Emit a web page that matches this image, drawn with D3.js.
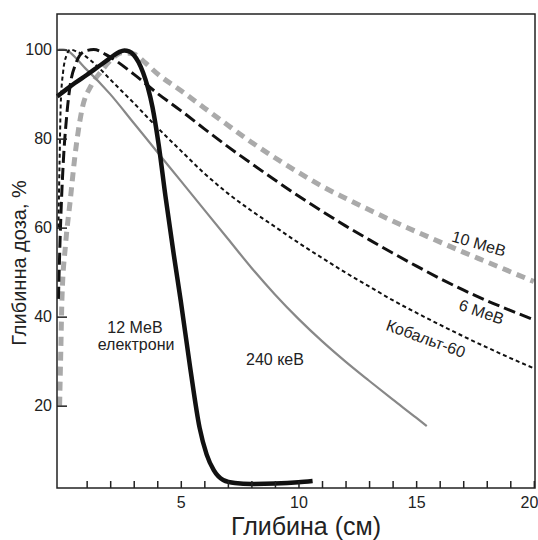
<!DOCTYPE html>
<html>
<head>
<meta charset="utf-8">
<script src="https://cdn.jsdelivr.net/npm/d3@7"></script>
<style>
  body { margin: 0; background: #fff; }
  text { font-family: "Liberation Sans", Arial, sans-serif; fill: #222; }
</style>
</head>
<body>
<svg id="chart"></svg>
<script>
// depth (cm), dose (%)
const mev10 = [[-0.15,20],[-0.1,32],[-0.05,44],[0.1,56],[0.3,66],[0.5,76],[0.8,86.5],[1.2,92],[1.6,95],[2,97.5],[2.5,99.3],[3,99],[3.5,97],[4,94.6],[5,90.8],[6,86.9],[7,83],[8,79.2],[9,75.7],[10,72.4],[11,69.3],[12,66.6],[13,64],[14,61.5],[15,59.1],[16,56.8],[17,54.5],[18,52.3],[19,50.1],[20,47.9]];
const mev6 = [[-0.2,44],[-0.1,62],[0,74],[0.15,85],[0.3,92],[0.55,97],[0.9,99.6],[1.3,100],[2,98.3],[3,94.5],[4,90.2],[5,86.3],[6,82.2],[7,78.2],[8,74.4],[9,70.7],[10,67.1],[11,63.7],[12,60.4],[13,57.3],[14,54.3],[15,51.4],[16,48.6],[17,46],[18,43.6],[19,41.4],[20,39.3]];
const cobalt60 = [[-0.2,60],[-0.15,75],[-0.1,88],[0,95],[0.15,98.8],[0.3,100],[0.6,99.5],[1,98.3],[1.5,96],[2,93.3],[3,88],[4,82.5],[5,77.3],[6,72.2],[7,67.7],[8,63.8],[9,60.2],[10,56.6],[11,53.2],[12,49.9],[13,46.8],[14,43.7],[15,40.9],[16,38.2],[17,35.6],[18,33.1],[19,30.7],[20,28.4]];
const kev240 = [[-0.2,100],[0,100],[1,95.5],[2,90],[3,83.5],[4,77],[5,70.5],[6,64],[7,57.5],[8,51],[9,45],[10,39.5],[11,34.5],[12,29.9],[13,25.6],[14,21.4],[15,17.3],[15.45,15.4]];
const electrons12 = [[-0.25,89.5],[0,90.5],[0.5,92.5],[1,94.3],[1.5,96.2],[2,98.1],[2.2,98.9],[2.4,99.5],[2.6,99.8],[2.8,99.6],[3,98.8],[3.2,97.2],[3.4,94.8],[3.6,91.5],[3.8,87],[4.05,79],[4.35,67],[4.7,54],[5,43.5],[5.4,28.5],[5.8,15],[6.1,9],[6.4,5.5],[6.8,3.3],[7.3,2.6],[8,2.4],[9,2.5],[10,2.8],[10.6,3.1]];

const xTicks = d3.range(1, 21);
const xTickLabels = [5, 10, 15, 20];
const yTicks = [20, 40, 60, 80, 100];

// label text, depth, dose, angle
const labels = [
  ["12 МеВ", 3.05, 36.3, 0],
  ["електрони", 3.1, 32.5, 0],
  ["240 кеВ", 9.0, 29.1, 0],
  ["10 МеВ", 17.6, 55.2, 16],
  ["6 МеВ", 17.7, 39.9, 19],
  ["Кобальт-60", 15.33, 33.9, 20]
];

const svg = d3.select("#chart")
  .attr("width", 538)
  .attr("height", 540);

const mLeft = 57, mRight = 535, mTop = 14, mBottom = 488;

const x = d3.scaleLinear().domain([-0.26, 20.05]).range([mLeft, mRight]);
const y = d3.scaleLinear().domain([1.5, 108]).range([mBottom, mTop]);

const line = d3.line()
  .x(d => x(d[0]))
  .y(d => y(d[1]))
  .curve(d3.curveMonotoneX);

const series = [
  { data: mev10, color: "#aaaaaa", width: 5, dash: "9,6" },
  { data: kev240, color: "#888888", width: 2.2, dash: null },
  { data: cobalt60, color: "#111111", width: 2, dash: "4,3" },
  { data: mev6, color: "#111111", width: 3, dash: "12,5" },
  { data: electrons12, color: "#111111", width: 4.5, dash: null }
];

svg.append("g").selectAll(".curve")
  .data(series)
  .join("path")
  .attr("class", "curve")
  .attr("fill", "none")
  .attr("stroke", d => d.color)
  .attr("stroke-width", d => d.width)
  .attr("stroke-dasharray", d => d.dash)
  .attr("d", d => line(d.data));

// frame
svg.append("rect")
  .attr("x", mLeft).attr("y", mTop)
  .attr("width", mRight - mLeft).attr("height", mBottom - mTop)
  .attr("fill", "none").attr("stroke", "#222").attr("stroke-width", 1.5);

const xAxis = d3.axisBottom(x)
  .tickValues(xTicks)
  .tickSizeInner(-7)
  .tickSizeOuter(0)
  .tickPadding(9)
  .tickFormat(d => xTickLabels.includes(d) ? d : "");

const gx = svg.append("g")
  .attr("transform", `translate(0, ${mBottom})`)
  .call(xAxis);
gx.select(".domain").remove();
gx.selectAll("line").attr("stroke", "#222").attr("stroke-width", 1.5);
gx.selectAll("text").style("font-size", "16px").attr("fill", "#222");
// last label sits against the right edge
gx.selectAll("text").filter(d => d === 20)
  .attr("text-anchor", "end")
  .attr("x", 4);

const yAxis = d3.axisLeft(y)
  .tickValues(yTicks)
  .tickSizeInner(-10)
  .tickSizeOuter(0)
  .tickPadding(5);

const gy = svg.append("g")
  .attr("transform", `translate(${mLeft}, 0)`)
  .call(yAxis);
gy.select(".domain").remove();
gy.selectAll("line").attr("stroke", "#222").attr("stroke-width", 1.5);
gy.selectAll("text").style("font-size", "16px").attr("fill", "#222");

svg.selectAll(".lbl")
  .data(labels)
  .join("text")
  .attr("class", "lbl")
  .attr("text-anchor", "middle")
  .attr("transform", d => `translate(${x(d[1])},${y(d[2])}) rotate(${d[3]})`)
  .style("font-size", "16px")
  .text(d => d[0]);

svg.append("text")
  .attr("x", 306).attr("y", 535)
  .attr("text-anchor", "middle")
  .style("font-size", "25px")
  .text("Глибина (см)");

svg.append("text")
  .attr("transform", "translate(26, 263) rotate(-90)")
  .attr("text-anchor", "middle")
  .style("font-size", "20px")
  .text("Глибинна доза, %");
</script>
</body>
</html>
